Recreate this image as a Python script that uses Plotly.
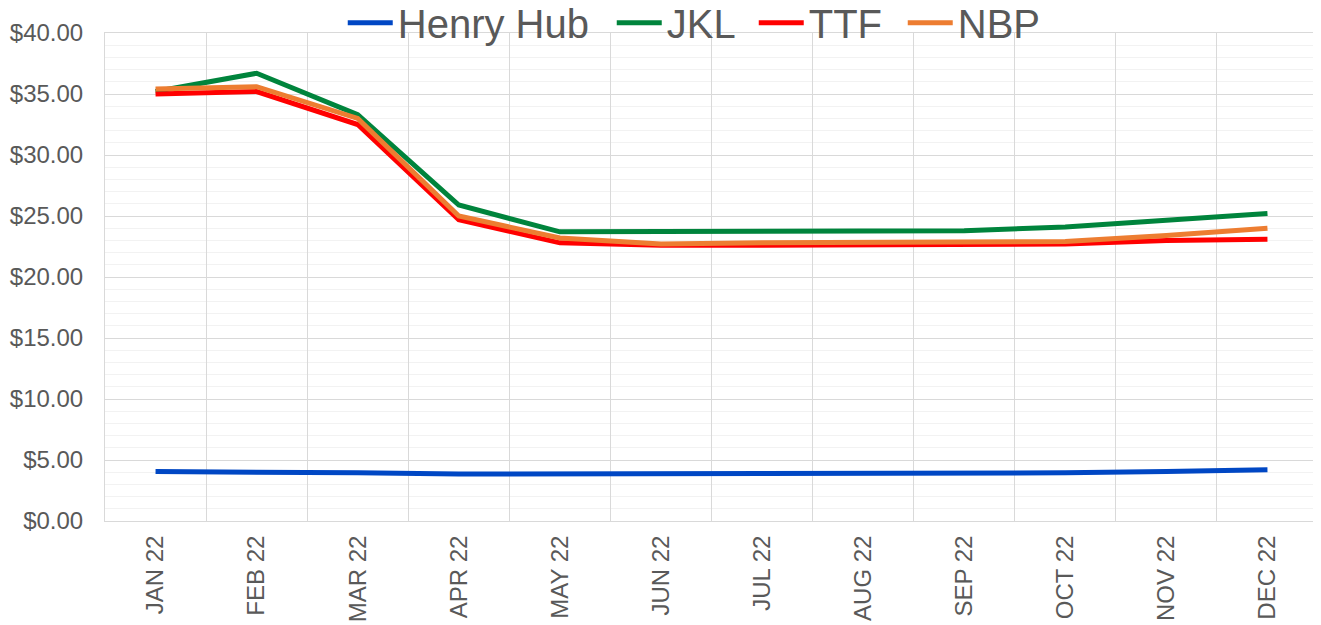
import plotly.graph_objects as go

months = ["JAN 22", "FEB 22", "MAR 22", "APR 22", "MAY 22", "JUN 22",
          "JUL 22", "AUG 22", "SEP 22", "OCT 22", "NOV 22", "DEC 22"]
henry_hub = [4.05, 4.05, 3.95, 3.85, 3.85, 3.85, 3.95, 3.95, 3.95, 3.95, 4.05, 4.20]
jkl = [35.2, 36.7, 33.3, 25.9, 23.7, 23.7, 23.8, 23.8, 23.8, 24.1, 24.7, 25.2]
ttf = [35.0, 35.2, 32.5, 24.7, 22.8, 22.6, 22.6, 22.6, 22.7, 22.7, 23.0, 23.1]
nbp = [35.4, 35.6, 33.0, 25.0, 23.2, 22.7, 22.8, 22.8, 22.9, 22.9, 23.4, 24.0]

series = [
    ("Henry Hub", henry_hub, "#0047C4", 209),
    ("JKL", jkl, "#00843C", 82),
    ("TTF", ttf, "#FF0000", 89),
    ("NBP", nbp, "#ED7D31", 98),
]

fig = go.Figure()
for name, vals, color, lw in series:
    fig.add_trace(go.Scatter(
        x=months, y=vals, name=name, mode="lines", legendwidth=lw,
        line=dict(color=color, width=5),
    ))

font_family = "Liberation Sans, Arial, sans-serif"

fig.update_layout(
    width=1321, height=625,
    paper_bgcolor="white", plot_bgcolor="white",
    margin=dict(l=97, r=11, t=25, b=112, autoexpand=False),
    font=dict(family=font_family, color="#595959", size=24),
    showlegend=True,
    legend=dict(
        orientation="h", x=0.196, xanchor="left", y=1.021, yanchor="middle",
        font=dict(size=40, color="#595959"), bgcolor="rgba(0,0,0,0)",
        itemwidth=45,
    ),
    xaxis=dict(
        type="category", range=[-0.5, 11.5], tickson="boundaries",
        tickangle=-90, ticks="", showgrid=True, gridcolor="#D9D9D9", gridwidth=1,
        showline=True, linecolor="#D9D9D9", linewidth=1, mirror=True,
        tickfont=dict(size=24, color="#595959"), ticklabelstandoff=4,
    ),
    yaxis=dict(
        range=[0, 40], dtick=5, tickformat="$.2f", ticks="",
        showgrid=True, gridcolor="#D9D9D9", gridwidth=1,
        minor=dict(dtick=1, showgrid=True, gridcolor="#F2F2F2", gridwidth=1),
        showline=True, linecolor="#D9D9D9", linewidth=1, mirror=True,
        zeroline=False, tickfont=dict(size=24, color="#595959"),
        ticklabelstandoff=16,
    ),
)

fig.write_html("out.html")
